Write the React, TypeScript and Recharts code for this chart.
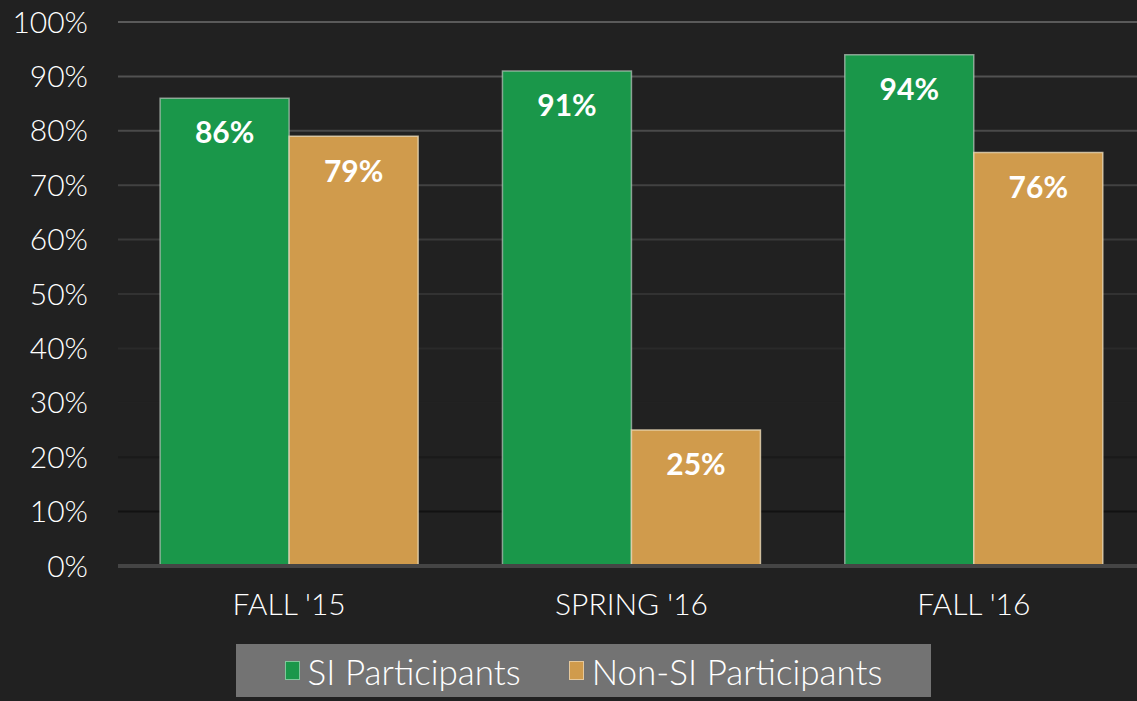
import { Bar, BarChart, CartesianGrid, LabelList, XAxis, YAxis } from "recharts";

const terms = ["FALL '15", "SPRING '16", "FALL '16"];
const siValues = [86, 91, 94];
const nonSiValues = [79, 25, 76];
const yTicks = [0, 10, 20, 30, 40, 50, 60, 70, 80, 90, 100];

const GREEN = "#1a974a";
const ORANGE = "#d09b4c";
const FONT = "Lato, 'Open Sans', sans-serif";

const data = terms.map((term, i) => ({ term, si: siValues[i], nonSi: nonSiValues[i] }));

// gridlines fade from gray at the top to near-black at the bottom
function GridLine(props: any) {
	const { x1, x2, y1, y2 } = props;
	if (y1 > 560) return null;
	const t = Math.min(1, Math.max(0, (y1 - 22) / (512 - 22)));
	const v = Math.round(0x5a + (0x12 - 0x5a) * t);
	return <line x1={x1} x2={x2} y1={y1} y2={y2} stroke={`rgb(${v},${v},${v})`} strokeWidth={2} />;
}

function ChartLegend() {
	const item = (color: string, label: string, gap: number) => (
		<span style={{ display: "inline-flex", alignItems: "center", marginRight: gap }}>
			<span
				style={{
					display: "inline-block",
					width: 13,
					height: 17,
					background: color,
					border: "1.5px solid rgba(255,255,255,0.45)",
					marginRight: 8,
				}}
			/>
			{label}
		</span>
	);
	return (
		<div
			style={{
				position: "absolute",
				left: 236,
				top: 644,
				width: 695,
				height: 53,
				background: "#737373",
				display: "flex",
				alignItems: "center",
				justifyContent: "center",
				color: "#fff",
				fontFamily: FONT,
				fontSize: 35,
				fontWeight: 300,
			}}
		>
			{item(GREEN, "SI Participants", 48)}
			{item(ORANGE, "Non-SI Participants", 0)}
		</div>
	);
}

export default function App() {
	return (
		<div style={{ position: "fixed", left: 0, top: 0, width: 1137, height: 701, background: "#212121", overflow: "hidden" }}>
			<BarChart
				width={1137}
				height={701}
				data={data}
				margin={{ top: 22, right: -8, left: 0, bottom: 65 }}
				barCategoryGap="12.3%"
				barGap={0}
			>
				<CartesianGrid vertical={false} horizontal={<GridLine />} />
				<XAxis
					dataKey="term"
					height={70}
					axisLine={{ stroke: "#454545", strokeWidth: 4 }}
					tickLine={false}
					tickMargin={22}
					tick={{ fill: "#fff", fontSize: 30, fontFamily: FONT, fontWeight: 300 }}
				/>
				<YAxis
					width={118}
					domain={[0, 100]}
					ticks={yTicks}
					interval={0}
					axisLine={false}
					tickLine={false}
					tickSize={0}
					tickMargin={30}
					tickFormatter={(v: number) => `${v}%`}
					tick={{ fill: "#fff", fontSize: 30, fontFamily: FONT, fontWeight: 300 }}
				/>
				<Bar dataKey="si" name="SI Participants" fill={GREEN} stroke="#b8c4bc" strokeOpacity={0.7} strokeWidth={1.5} isAnimationActive={false}>
					<LabelList
						dataKey="si"
						position="insideTop"
						offset={24}
						formatter={(v: any) => `${v}%`}
						style={{ fill: "#fff", fontSize: 30, fontWeight: 700, fontFamily: FONT }}
					/>
				</Bar>
				<Bar dataKey="nonSi" name="Non-SI Participants" fill={ORANGE} stroke="#e8d8b8" strokeOpacity={0.8} strokeWidth={1.5} isAnimationActive={false}>
					<LabelList
						dataKey="nonSi"
						position="insideTop"
						offset={24}
						formatter={(v: any) => `${v}%`}
						style={{ fill: "#fff", fontSize: 30, fontWeight: 700, fontFamily: FONT }}
					/>
				</Bar>
			</BarChart>
			<ChartLegend />
		</div>
	);
}
